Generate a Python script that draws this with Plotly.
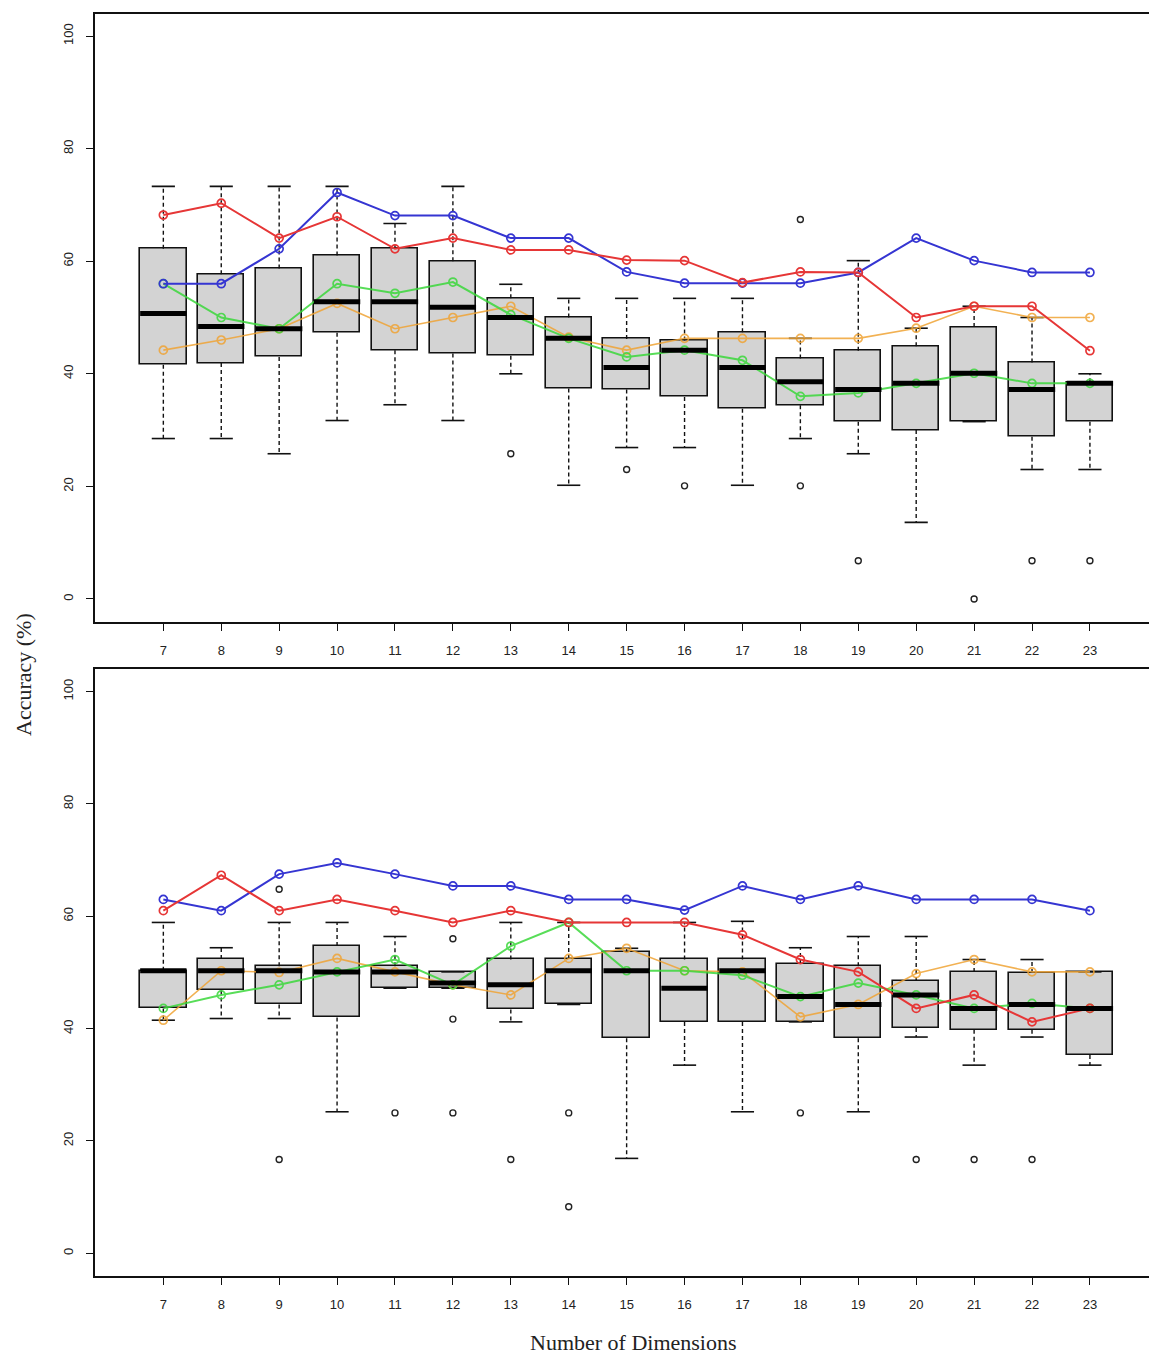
import plotly.graph_objects as go

dims = list(range(7, 24))

# ---------------- top panel ----------------
top_upper = [73.3, 73.3, 73.3, 73.3, 66.7, 73.3, 55.9, 53.4, 53.4, 53.4, 53.4, 46.3, 60.1, 48.1, 52.0, 50.0, 40.0]
top_q3 = [62.2, 57.7, 58.7, 61.0, 62.2, 60.0, 53.4, 50.0, 46.2, 45.9, 47.4, 42.7, 44.1, 44.9, 48.3, 42.0, 38.5]
top_median = [50.7, 48.4, 48.0, 52.8, 52.8, 51.8, 50.0, 46.3, 41.1, 44.2, 41.1, 38.6, 37.2, 38.3, 40.1, 37.2, 38.3]
top_q1 = [41.6, 41.9, 43.0, 47.3, 44.2, 43.6, 43.2, 37.4, 37.2, 35.9, 33.8, 34.4, 31.5, 30.0, 31.5, 28.8, 31.5]
top_lower = [28.5, 28.5, 25.8, 31.7, 34.5, 31.7, 40.0, 20.2, 26.9, 26.9, 20.2, 28.5, 25.8, 13.6, 31.5, 23.0, 23.0]
top_outlier_x = [13, 15, 16, 18, 18, 19, 21, 22, 23]
top_outlier_y = [25.8, 23.0, 20.1, 67.4, 20.1, 6.8, 0.0, 6.8, 6.8]

top_blue = [56.0, 56.0, 62.2, 72.2, 68.1, 68.1, 64.1, 64.1, 58.1, 56.1, 56.1, 56.1, 58.0, 64.1, 60.1, 58.0, 58.0]
top_red = [68.2, 70.3, 64.1, 67.9, 62.2, 64.1, 62.0, 62.0, 60.2, 60.1, 56.2, 58.1, 58.0, 50.0, 52.0, 52.0, 44.1]
top_green = [56.0, 50.0, 48.0, 56.0, 54.3, 56.3, 50.5, 46.3, 43.0, 44.2, 42.4, 36.0, 36.6, 38.3, 40.1, 38.3, 38.3]
top_orange = [44.2, 46.0, 48.0, 52.5, 48.0, 50.0, 52.0, 46.5, 44.2, 46.3, 46.3, 46.3, 46.3, 48.1, 52.0, 50.0, 50.0]

# ---------------- bottom panel ----------------
bot_upper = [58.9, 54.4, 58.9, 58.9, 56.4, 50.1, 58.9, 58.9, 54.3, 58.9, 59.1, 54.4, 56.4, 56.4, 52.3, 52.3, 50.1]
bot_q3 = [50.3, 52.4, 51.1, 54.7, 51.1, 50.1, 52.3, 52.4, 53.7, 52.3, 52.3, 51.5, 51.1, 48.5, 50.1, 49.9, 50.1]
bot_median = [50.3, 50.3, 50.3, 50.1, 50.1, 48.1, 47.8, 50.3, 50.3, 47.2, 50.3, 45.7, 44.3, 46.0, 43.6, 44.3, 43.6]
bot_q1 = [43.6, 46.8, 44.3, 42.0, 47.2, 47.2, 43.4, 44.3, 38.3, 41.2, 41.2, 41.2, 38.3, 40.1, 39.8, 39.8, 35.3]
bot_lower = [41.5, 41.8, 41.8, 25.2, 47.2, 47.2, 41.2, 44.3, 16.9, 33.5, 25.2, 41.2, 25.2, 38.5, 33.5, 38.5, 33.5]
bot_outlier_x = [9, 9, 11, 12, 12, 12, 13, 14, 14, 18, 20, 21, 22]
bot_outlier_y = [64.8, 16.7, 25.0, 56.0, 41.7, 25.0, 16.7, 25.0, 8.3, 25.0, 16.7, 16.7, 16.7]

bot_blue = [63.0, 61.0, 67.5, 69.5, 67.5, 65.4, 65.4, 63.0, 63.0, 61.1, 65.4, 63.0, 65.4, 63.0, 63.0, 63.0, 61.0]
bot_red = [61.0, 67.3, 61.0, 63.0, 61.0, 58.9, 61.0, 58.9, 58.9, 58.9, 56.7, 52.3, 50.1, 43.6, 46.0, 41.2, 43.6]
bot_green = [43.6, 46.0, 47.8, 50.1, 52.3, 47.8, 54.7, 58.9, 50.3, 50.3, 49.5, 45.7, 48.1, 46.0, 43.6, 44.5, 43.6]
bot_orange = [41.5, 50.3, 50.0, 52.5, 50.1, 47.8, 46.0, 52.5, 54.3, 50.3, 50.1, 42.1, 44.3, 49.8, 52.3, 50.1, 50.1]

y_ticks = [0, 20, 40, 60, 80, 100]

BLUE = "#3535d2"
RED = "#e63636"
GREEN = "#3bd83b"
ORANGE = "#f0a435"

BOX_W = 0.8
CAP_W = 0.4

fig = go.Figure()


def segs(xs, ys_a, ys_b, half):
    sx, sy = [], []
    for x, a, b in zip(xs, ys_a, ys_b):
        sx += [x - half, x + half, None]
        sy += [a, b, None]
    return sx, sy


def add_panel(xa, ya, upper, q3, med, q1, lower, ox, oy, blue, red, green, orange):
    # boxes
    fig.add_trace(go.Bar(
        x=dims, y=[a - b for a, b in zip(q3, q1)], base=q1, width=BOX_W,
        marker=dict(color="#d3d3d3", line=dict(color="#111111", width=1.6)),
        xaxis=xa, yaxis=ya, showlegend=False, hoverinfo="skip"))
    # whiskers (dashed)
    wx, wy = [], []
    for x, u, a, b, l in zip(dims, upper, q3, q1, lower):
        if u > a:
            wx += [x, x, None]
            wy += [a, u, None]
        if l < b:
            wx += [x, x, None]
            wy += [b, l, None]
    fig.add_trace(go.Scatter(x=wx, y=wy, mode="lines",
                             line=dict(color="#111111", width=1.4, dash="4px,3px"),
                             xaxis=xa, yaxis=ya, showlegend=False, hoverinfo="skip"))
    # staples
    cx1, cy1 = segs(dims, upper, upper, CAP_W / 2)
    cx2, cy2 = segs(dims, lower, lower, CAP_W / 2)
    fig.add_trace(go.Scatter(x=cx1 + cx2, y=cy1 + cy2, mode="lines",
                             line=dict(color="#111111", width=1.6),
                             xaxis=xa, yaxis=ya, showlegend=False, hoverinfo="skip"))
    # outliers
    fig.add_trace(go.Scatter(x=ox, y=oy, mode="markers",
                             marker=dict(symbol="circle-open", size=6, color="#222222",
                                         line=dict(width=1.4)),
                             xaxis=xa, yaxis=ya, showlegend=False, hoverinfo="skip"))
    # series lines
    for vals, col, w, op in [(orange, ORANGE, 1.6, 0.85), (green, GREEN, 2.0, 0.85),
                             (blue, BLUE, 2.0, 1.0), (red, RED, 2.0, 1.0)]:
        fig.add_trace(go.Scatter(x=dims, y=vals, mode="lines+markers",
                                 line=dict(color=col, width=w),
                                 marker=dict(symbol="circle-open", size=8, color=col,
                                             line=dict(width=1.7)),
                                 opacity=op, xaxis=xa, yaxis=ya,
                                 showlegend=False, hoverinfo="skip"))
    # medians (thick)
    mx, my = segs(dims, med, med, BOX_W / 2)
    fig.add_trace(go.Scatter(x=mx, y=my, mode="lines",
                             line=dict(color="#000000", width=5),
                             xaxis=xa, yaxis=ya, showlegend=False, hoverinfo="skip"))


add_panel("x", "y", top_upper, top_q3, top_median, top_q1, top_lower,
          top_outlier_x, top_outlier_y, top_blue, top_red, top_green, top_orange)
add_panel("x2", "y2", bot_upper, bot_q3, bot_median, bot_q1, bot_lower,
          bot_outlier_x, bot_outlier_y, bot_blue, bot_red, bot_green, bot_orange)

W, H = 1149, 1355
x_dom = [95 / W, 1.0]
top_dom = [1 - 621.5 / H, 1 - 13.5 / H]
bot_dom = [1 - 1275.8 / H, 1 - 669.1 / H]

tickfont = dict(family="Liberation Sans, Arial, sans-serif", size=13, color="#222222")

common_x = dict(range=[5.82, 24.02], tickmode="array", tickvals=dims,
                ticktext=[str(d) for d in dims], ticks="outside", ticklen=7,
                tickwidth=1.3, tickcolor="#111111", showline=True, linecolor="#111111",
                linewidth=2, mirror=True, showgrid=False, zeroline=False,
                tickfont=tickfont, ticklabelstandoff=9, automargin=False)
common_y = dict(range=[-4, 104], tickmode="array", tickvals=y_ticks,
                ticktext=[str(v) for v in y_ticks], ticks="outside", ticklen=7,
                tickwidth=1.3, tickcolor="#111111", showline=True, linecolor="#111111",
                linewidth=2, showgrid=False, zeroline=False, tickangle=-90,
                tickfont=tickfont, ticklabelstandoff=8, automargin=False)

fig.update_layout(
    width=W, height=H,
    margin=dict(l=0, r=0, t=0, b=0),
    paper_bgcolor="white", plot_bgcolor="white",
    barmode="overlay", bargap=0,
    xaxis=dict(domain=x_dom, anchor="y", **common_x),
    yaxis=dict(domain=top_dom, anchor="x", **common_y),
    xaxis2=dict(domain=x_dom, anchor="y2", **common_x),
    yaxis2=dict(domain=bot_dom, anchor="x2", **common_y),
    annotations=[
        dict(text="Accuracy (%)", x=23 / W, y=1 - 675 / H, xref="paper", yref="paper",
             showarrow=False, textangle=-90, xanchor="center", yanchor="middle",
             font=dict(family="Liberation Serif, Times New Roman, serif", size=22, color="#222222")),
        dict(text="Number of Dimensions", x=633 / W, y=1 - 1342 / H, xref="paper", yref="paper",
             showarrow=False, xanchor="center", yanchor="middle",
             font=dict(family="Liberation Serif, Times New Roman, serif", size=22, color="#222222")),
    ],
)

fig.write_html("out.html",
               config={"displayModeBar": False},
               post_script="document.body.style.margin='0px';document.body.style.overflow='hidden';")
